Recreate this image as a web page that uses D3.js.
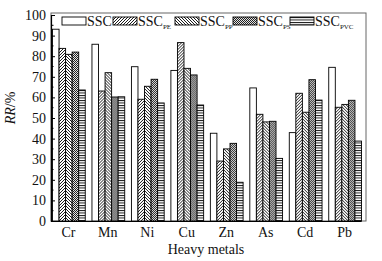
<!DOCTYPE html>
<html>
<head>
<meta charset="utf-8">
<script src="https://cdn.jsdelivr.net/npm/d3@7"></script>
<style>
    body { margin: 0; background: #fff; }
    #chart { width: 382px; height: 261px; }
    text { font-family: "Liberation Serif", "Times New Roman", serif; fill: #111; }
</style>
</head>
<body>
<div id="chart"></div>
<script>

// categories + series
let metals = ["Cr", "Mn", "Ni", "Cu", "Zn", "As", "Cd", "Pb"];
let seriesKeys = ["SSC", "PE", "PP", "PS", "PVC"];
let yTicks = [0, 10, 20, 30, 40, 50, 60, 70, 80, 90, 100];

let ssc    = [93.1, 85.8, 74.9, 73.1, 42.6, 64.6, 42.9, 74.6];
let sscPE  = [83.8, 63.1, 59.1, 86.6, 29.1, 51.8, 62.0, 55.2];
let sscPP  = [80.9, 72.0, 65.4, 74.1, 35.0, 48.1, 52.8, 56.6];
let sscPS  = [82.0, 60.2, 68.8, 70.9, 37.7, 48.4, 68.6, 58.6];
let sscPVC = [63.6, 60.3, 57.3, 56.3, 18.8, 30.4, 58.7, 38.8];


class GroupedBars {

    constructor(parentElement) {
        this.parentElement = parentElement;
        this.initVis();
    }

    initVis() {
        let vis = this;

        vis.svg = d3.select("#" + vis.parentElement).append("svg")
            .attr("width", 382)
            .attr("height", 261);

        // fill patterns for the hatched bars
        let defs = vis.svg.append("defs");

        let pe = defs.append("pattern").attr("id", "pat-PE")
            .attr("patternUnits", "userSpaceOnUse").attr("width", 3).attr("height", 3);
        pe.append("rect").attr("width", 3).attr("height", 3).attr("fill", "#fff");
        pe.append("path").attr("d", "M-1,1 l2,-2 M0,3 l3,-3 M2,4 l2,-2")
            .attr("stroke", "#000").attr("stroke-width", 0.9);

        let pp = defs.append("pattern").attr("id", "pat-PP")
            .attr("patternUnits", "userSpaceOnUse").attr("width", 3).attr("height", 3);
        pp.append("rect").attr("width", 3).attr("height", 3).attr("fill", "#fff");
        pp.append("path").attr("d", "M-1,2 l2,2 M0,0 l3,3 M2,-1 l2,2")
            .attr("stroke", "#000").attr("stroke-width", 0.9);

        let ps = defs.append("pattern").attr("id", "pat-PS")
            .attr("patternUnits", "userSpaceOnUse").attr("width", 2).attr("height", 2);
        ps.append("rect").attr("width", 2).attr("height", 2).attr("fill", "#e4e4e4");
        ps.append("rect").attr("width", 1).attr("height", 1).attr("fill", "#222");
        ps.append("rect").attr("x", 1).attr("y", 1).attr("width", 1).attr("height", 1).attr("fill", "#222");

        let pvc = defs.append("pattern").attr("id", "pat-PVC")
            .attr("patternUnits", "userSpaceOnUse").attr("width", 4).attr("height", 2.5);
        pvc.append("rect").attr("width", 4).attr("height", 2.5).attr("fill", "#fff");
        pvc.append("line").attr("x1", 0).attr("x2", 4).attr("y1", 0.5).attr("y2", 0.5)
            .attr("stroke", "#000").attr("stroke-width", 0.9);

        vis.fills = {SSC: "#fff", PE: "url(#pat-PE)", PP: "url(#pat-PP)", PS: "url(#pat-PS)", PVC: "url(#pat-PVC)"};

        // scales
        vis.x0 = d3.scaleBand()
            .domain(metals)
            .range([52, 361])
            .paddingInner(0.17)
            .paddingOuter(0);

        vis.x1 = d3.scaleBand()
            .domain(seriesKeys)
            .range([0, vis.x0.bandwidth()]);

        vis.y = d3.scaleLinear()
            .domain([0, 100])
            .range([221, 15]);

        vis.wrangleData();
    }

    wrangleData() {
        let vis = this;
        let cols = {SSC: ssc, PE: sscPE, PP: sscPP, PS: sscPS, PVC: sscPVC};

        vis.displayData = metals.map((m, i) => ({
            metal: m,
            values: seriesKeys.map(k => ({key: k, value: cols[k][i]}))
        }));

        vis.updateVis();
    }

    updateVis() {
        let vis = this;

        // frame
        vis.svg.append("rect")
            .attr("x", 51).attr("y", 13)
            .attr("width", 315).attr("height", 208)
            .attr("fill", "none")
            .attr("stroke", "#666")
            .attr("stroke-width", 1);

        // bars
        let groups = vis.svg.selectAll(".group")
            .data(vis.displayData)
            .enter().append("g")
            .attr("class", "group")
            .attr("transform", d => "translate(" + vis.x0(d.metal) + ",0)");

        groups.selectAll("rect")
            .data(d => d.values)
            .enter().append("rect")
            .attr("x", d => vis.x1(d.key) + 0.5)
            .attr("y", d => vis.y(d.value))
            .attr("width", vis.x1.bandwidth())
            .attr("height", d => vis.y(0) - vis.y(d.value))
            .attr("fill", d => vis.fills[d.key])
            .attr("stroke", "#000")
            .attr("stroke-width", 0.9);

        // y axis, ticks inward
        let yAxis = d3.axisLeft(vis.y)
            .tickValues(yTicks)
            .tickSize(-4)
            .tickPadding(5)
            .tickFormat(d3.format("d"));

        let gy = vis.svg.append("g")
            .attr("transform", "translate(51,0)")
            .call(yAxis);
        gy.select(".domain").attr("stroke", "#000").attr("stroke-width", 1.2);
        gy.selectAll("text").style("font-size", "14px")
            .attr("font-family", "Liberation Serif").attr("fill", "#111");

        // minor ticks
        gy.selectAll(".minor")
            .data(d3.range(5, 100, 10))
            .enter().append("line")
            .attr("class", "minor")
            .attr("x1", 0).attr("x2", 2.5)
            .attr("y1", d => vis.y(d)).attr("y2", d => vis.y(d))
            .attr("stroke", "#000");

        // x axis labels
        let xAxis = d3.axisBottom(vis.x0).tickSize(0).tickPadding(6);
        let gx = vis.svg.append("g")
            .attr("transform", "translate(0,221)")
            .call(xAxis);
        gx.select(".domain").attr("stroke", "#000").attr("stroke-width", 1);
        gx.selectAll("text").style("font-size", "14px")
            .attr("font-family", "Liberation Serif").attr("fill", "#111");

        // axis titles
        vis.svg.append("text")
            .attr("x", 206).attr("y", 254)
            .attr("text-anchor", "middle")
            .style("font-size", "14px")
            .text("Heavy metals");

        let yt = vis.svg.append("text")
            .attr("transform", "translate(15,108) rotate(-90)")
            .attr("text-anchor", "middle")
            .style("font-size", "14px");
        yt.append("tspan").attr("font-style", "italic").text("RR");
        yt.append("tspan").text("/%");

        // legend
        let legX = [62, 113, 175, 233, 290];
        let leg = vis.svg.selectAll(".leg")
            .data(seriesKeys)
            .enter().append("g")
            .attr("class", "leg")
            .attr("transform", (d, i) => "translate(" + legX[i] + ",17)");

        leg.append("rect")
            .attr("width", 24).attr("height", 8)
            .attr("fill", d => vis.fills[d])
            .attr("stroke", "#000").attr("stroke-width", 0.9);

        let lt = leg.append("text")
            .attr("x", 25).attr("y", 9)
            .style("font-size", "14px");
        lt.append("tspan").text("SSC");
        lt.filter(d => d !== "SSC").append("tspan")
            .attr("dy", 2.5)
            .style("font-size", "7px")
            .text(d => d);
    }
}

new GroupedBars("chart");

</script>
</body>
</html>
